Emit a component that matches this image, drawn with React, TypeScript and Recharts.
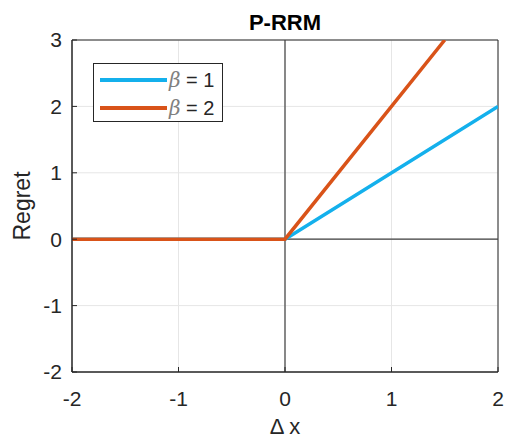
import React from 'react';
import { LineChart, Line, XAxis, YAxis, CartesianGrid, ReferenceLine, ReferenceArea } from 'recharts';

const xTicks = [-2, -1, 0, 1, 2];
const yTicks = [-2, -1, 0, 1, 2, 3];

const beta1X = [-2, 0, 2];
const beta1Y = [0, 0, 2];
const beta2X = [-2, 0, 1.5];
const beta2Y = [0, 0, 3];

const beta1 = beta1X.map((x, i) => ({ x, y: beta1Y[i] }));
const beta2 = beta2X.map((x, i) => ({ x, y: beta2Y[i] }));

const FONT = '"Liberation Sans", Arial, sans-serif';
const TXT = '#262626';
const BLUE = '#14b0ec';
const ORANGE = '#d95319';

const legendItems = [
  { c: BLUE, v: 1 },
  { c: ORANGE, v: 2 },
];

const LegendBox = () => (
  <div
    style={{
      position: 'absolute',
      left: 93,
      top: 63,
      width: 130,
      height: 59,
      border: '1px solid #262626',
      background: '#fff',
      fontFamily: FONT,
      fontSize: 20,
      color: TXT,
      boxSizing: 'border-box',
    }}
  >
    {legendItems.map((it, i) => (
      <div key={i} style={{ display: 'flex', alignItems: 'center', height: 28, marginTop: i === 0 ? 2 : 0 }}>
        <div style={{ width: 67, height: 4, background: it.c, marginLeft: 6, marginRight: 2 }} />
        <span style={{ whiteSpace: 'nowrap' }}>
          <i style={{ fontFamily: '"DejaVu Serif", serif', color: '#808080' }}>β</i> = {it.v}
        </span>
      </div>
    ))}
  </div>
);

const App = () => {
  return (
    <div style={{ position: 'absolute', left: 0, top: 0, width: 505, height: 441, background: '#fff' }}>
      <LineChart width={505} height={441} margin={{ top: 40, right: 7, left: 32, bottom: 39 }}>
        <CartesianGrid stroke="#e6e6e6" horizontalValues={yTicks} verticalValues={xTicks} />
        <XAxis
          type="number"
          dataKey="x"
          domain={[-2, 2]}
          ticks={xTicks}
          allowDataOverflow
          height={30}
          tickSize={-5}
          tickMargin={24}
          stroke="#262626"
          tick={{ fill: TXT, fontSize: 21, fontFamily: FONT }}
          label={{ value: 'Δ x', position: 'bottom', offset: 16, fill: TXT, fontSize: 22, fontFamily: FONT }}
        />
        <YAxis
          type="number"
          dataKey="y"
          domain={[-2, 3]}
          ticks={yTicks}
          allowDataOverflow
          width={40}
          tickSize={-5}
          tickMargin={15}
          stroke="#262626"
          tick={{ fill: TXT, fontSize: 21, fontFamily: FONT }}
          label={{ value: 'Regret', angle: -90, position: 'insideLeft', offset: -10, fill: TXT, fontSize: 23, fontFamily: FONT, style: { textAnchor: 'middle' } }}
        />
        <ReferenceLine x={0} stroke="#404040" strokeWidth={1.2} />
        <ReferenceLine y={0} stroke="#404040" strokeWidth={1.2} />
        <ReferenceArea x1={-2} x2={2} y1={-2} y2={3} fill="none" stroke="#262626" strokeWidth={1} />
        <Line data={beta1} dataKey="y" stroke={BLUE} strokeWidth={3.5} dot={false} isAnimationActive={false} />
        <Line data={beta2} dataKey="y" stroke={ORANGE} strokeWidth={3.5} dot={false} isAnimationActive={false} />
      </LineChart>
      <div
        style={{
          position: 'absolute',
          top: 10,
          left: 72,
          width: 426,
          textAlign: 'center',
          fontFamily: FONT,
          fontWeight: 'bold',
          fontSize: 22,
          color: '#000',
        }}
      >
        P-RRM
      </div>
      <LegendBox />
    </div>
  );
};

export default App;
